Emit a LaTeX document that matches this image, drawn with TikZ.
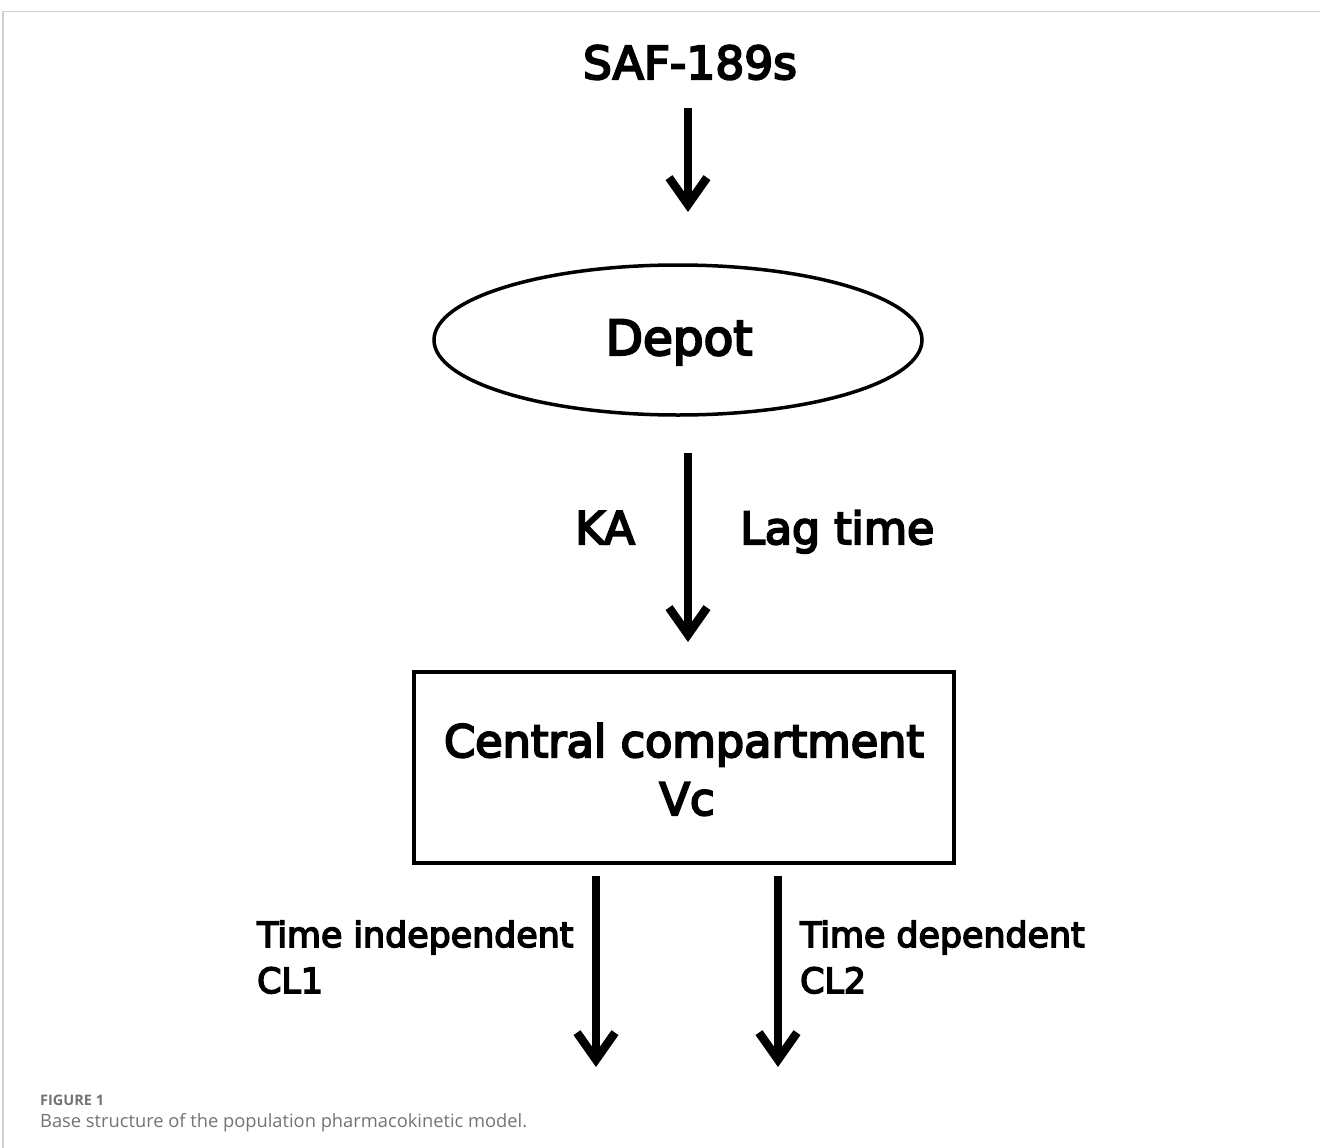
\documentclass[tikz,border=0pt]{standalone}
\usepackage{fontspec}
\setmainfont{Open Sans}
\newfontfamily\labfont{DejaVu Sans}[FakeBold=4.5]
\usetikzlibrary{arrows.meta,shapes.geometric}
\begin{document}
\begin{tikzpicture}[x=1pt,y=-1pt,
  flow/.style={line width=7.5pt, -{Straight Barb[length=27pt,width=38pt,line width=8.5pt]}},
  frame/.style={draw=black!18, line width=1.2pt},
  txt/.style={inner sep=0pt}]
\useasboundingbox (0,0) rectangle (1320,1148);
\draw[frame] (3,1148) -- (3,11.5) -- (1320,11.5);
\node[txt, anchor=base, font=\labfont\fontsize{45.5}{50}\selectfont] (saf) at (690,79) {SAF-189s};
\coordinate (a1s) at (688,108);
\coordinate (a1e) at (688,212);
\draw[flow] (a1s) -- (a1e);
\node[ellipse, draw, line width=3.5pt, minimum width=488pt, minimum height=150pt, inner sep=0pt] (depot) at (678,340) {};
\node[txt, anchor=base, font=\labfont\fontsize{48.5}{50}\selectfont] (depotlbl) at (679,355) {Depot};
\coordinate (a2s) at (688,453);
\coordinate (a2e) at (688,642);
\draw[flow] (a2s) -- (a2e);
\node[txt, anchor=base east, font=\labfont\fontsize{45}{50}\selectfont] (ka) at (635,544) {KA};
\node[txt, anchor=base west, font=\labfont\fontsize{44.3}{50}\selectfont] (lag) at (740,544) {Lag time};
\node[draw, line width=4pt, minimum width=540pt, minimum height=191pt, inner sep=0pt] (central) at (684,767.5) {};
\node[txt, anchor=base, font=\labfont\fontsize{44.6}{50}\selectfont] (cc) at (684,757) {Central compartment};
\node[txt, anchor=base, font=\labfont\fontsize{44.6}{50}\selectfont] (vc) at (687,815) {Vc};
\coordinate (a3s) at (596,876);
\coordinate (a3e) at (596,1067);
\coordinate (a4s) at (778,876);
\coordinate (a4e) at (778,1067);
\draw[flow] (a3s) -- (a3e);
\draw[flow] (a4s) -- (a4e);
\node[txt, anchor=base west, font=\labfont\fontsize{34.8}{40}\selectfont] (ti) at (257,947) {Time independent};
\node[txt, anchor=base west, font=\labfont\fontsize{34.8}{40}\selectfont] (cl1) at (257,993) {CL1};
\node[txt, anchor=base west, font=\labfont\fontsize{34.8}{40}\selectfont] (td) at (800,947) {Time dependent};
\node[txt, anchor=base west, font=\labfont\fontsize{34.8}{40}\selectfont] (cl2) at (800,993) {CL2};
\node[txt, anchor=base west, text=black!55, font=\fontsize{14.5}{16}\selectfont\bfseries] (fig) at (40,1105) {FIGURE 1};
\node[txt, anchor=base west, text=black!55, font=\fontsize{18.3}{22}\selectfont] (cap) at (40,1127) {Base structure of the population pharmacokinetic model.};
\end{tikzpicture}
\end{document}
